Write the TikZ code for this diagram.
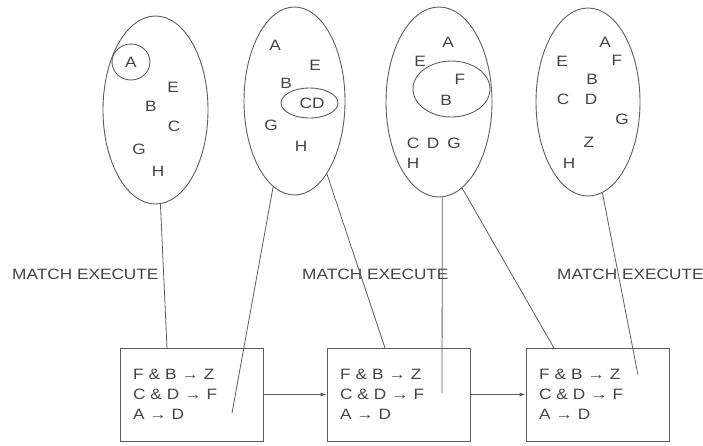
\documentclass[tikz,border=0pt]{standalone}
\usepackage{fontspec}
\setmainfont{Liberation Sans}[FakeStretch=1.15]
\usetikzlibrary{shapes.geometric,arrows.meta}
\definecolor{ink}{HTML}{5E5E5E}
\definecolor{txt}{HTML}{444444}
\begin{document}
\begin{tikzpicture}[x=1pt,y=-1pt,
  set/.style={draw=ink,line width=0.9pt,ellipse,inner sep=0pt},
  lbl/.style={text=txt,font=\fontsize{15}{17}\selectfont,inner sep=0pt},
  rulebox/.style={draw=ink,line width=0.9pt,rectangle,minimum width=143pt,minimum height=93pt,
     text width=117pt,inner xsep=13pt,align=left,text=txt,font=\fontsize{15}{20}\selectfont},
  link/.style={draw=ink,line width=0.8pt},
  flow/.style={draw=ink,line width=0.8pt,-{Latex[length=6pt,width=4pt]}}]
\useasboundingbox (0,0) rectangle (703,445);
% ellipses
\node[set,minimum width=105pt,minimum height=188pt] (e1) at (155.5,110) {};
\node[set,minimum width=101pt,minimum height=188pt] (e2) at (294.5,101) {};
\node[set,minimum width=106pt,minimum height=190pt] (e3) at (439,102) {};
\node[set,minimum width=104pt,minimum height=188pt] (e4) at (588,102) {};
% inner sets
\node[set,minimum width=38pt,minimum height=36pt] (s1) at (131,62) {};
\node[set,minimum width=57pt,minimum height=30pt] (s2) at (309.5,103) {};
\node[set,minimum width=77pt,minimum height=56pt] (s3) at (451.5,89) {};
% ellipse 1 letters
\node[lbl] (a1A) at (131,62) {A};
\node[lbl] (a1E) at (173,87) {E};
\node[lbl] (a1B) at (151,106) {B};
\node[lbl] (a1C) at (174,126) {C};
\node[lbl] (a1G) at (139,149) {G};
\node[lbl] (a1H) at (158,171) {H};
% ellipse 2 letters
\node[lbl] (a2A) at (275,45) {A};
\node[lbl] (a2E) at (315,65) {E};
\node[lbl] (a2B) at (286,83) {B};
\node[lbl] (a2CD) at (312,103) {CD};
\node[lbl] (a2G) at (271,125) {G};
\node[lbl] (a2H) at (301,146) {H};
% ellipse 3 letters
\node[lbl] (a3A) at (448,42) {A};
\node[lbl] (a3E) at (420,61) {E};
\node[lbl] (a3F) at (460,79) {F};
\node[lbl] (a3B) at (446,100) {B};
\node[lbl] (a3C) at (413,143) {C};
\node[lbl] (a3D) at (433,143) {D};
\node[lbl] (a3G) at (454,143) {G};
\node[lbl] (a3H) at (413,163) {H};
% ellipse 4 letters
\node[lbl] (a4A) at (605,42) {A};
\node[lbl] (a4E) at (562,61) {E};
\node[lbl] (a4F) at (617,60) {F};
\node[lbl] (a4B) at (592,79) {B};
\node[lbl] (a4C) at (563,99) {C};
\node[lbl] (a4D) at (591,99) {D};
\node[lbl] (a4G) at (622,119) {G};
\node[lbl] (a4Z) at (589,142) {Z};
\node[lbl] (a4H) at (569,163) {H};
% labels
\node[lbl,anchor=west] (m1) at (12,274) {MATCH EXECUTE};
\node[lbl,anchor=west] (m2) at (302,274) {MATCH EXECUTE};
\node[lbl,anchor=west] (m3) at (557,274) {MATCH EXECUTE};
% rule boxes
\node[rulebox] (b1) at (191.5,394.5) {F \& B → Z\\C \& D → F\\A → D};
\node[rulebox] (b2) at (398.5,394.5) {F \& B → Z\\C \& D → F\\A → D};
\node[rulebox] (b3) at (597.5,394.5) {F \& B → Z\\C \& D → F\\A → D};
% free ends
\coordinate (p1) at (167,348);
\coordinate (p2a) at (232,413);
\coordinate (p2b) at (385,348);
\coordinate (p3a) at (442,393);
\coordinate (p3b) at (554,348);
\coordinate (p4) at (638,375);
% links
\draw[link] (e1.-87) -- (p1);
\draw[link] (e2.-104) -- (p2a);
\draw[link] (e2.-66) -- (p2b);
\draw[link] (e3.-88) -- (p3a);
\draw[link] (e3.-75) -- (p3b);
\draw[link] (e4.-81.4) -- (p4);
% flow arrows
\draw[flow] (b1.east) -- (b2.west);
\draw[flow] (b2.east) -- (b3.west);
\end{tikzpicture}
\end{document}
